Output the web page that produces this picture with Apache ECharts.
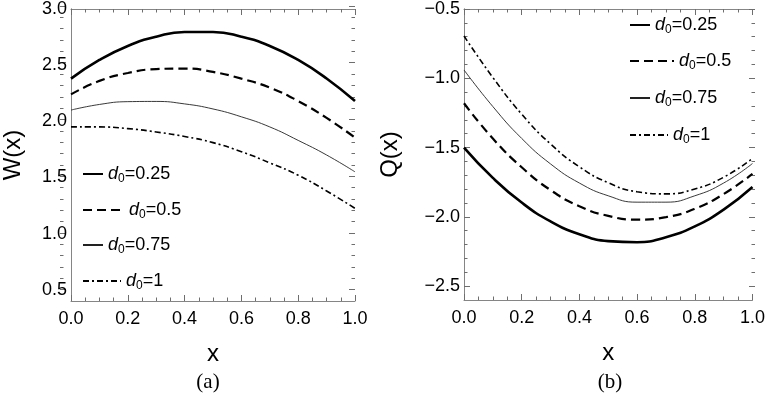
<!DOCTYPE html>
<html>
<head>
<meta charset="utf-8">
<script src="https://cdn.jsdelivr.net/npm/echarts@6/dist/echarts.min.js"></script>
<style>html,body{margin:0;padding:0;background:#fff}#c{width:768px;height:393px}</style>
</head>
<body>
<div id="c"></div>
<script>
// ---- data ----
const xs = [0, 0.1, 0.2, 0.3, 0.4, 0.5, 0.6, 0.7, 0.8, 0.9, 1.0];
const seriesNames = ['d0=0.25', 'd0=0.5', 'd0=0.75', 'd0=1'];
// W(x), panel (a)
const W_025 = [2.38, 2.546, 2.671, 2.753, 2.795, 2.795, 2.753, 2.671, 2.546, 2.381, 2.18];
const W_050 = [2.24, 2.36, 2.43, 2.465, 2.47, 2.44, 2.38, 2.30, 2.18, 2.03, 1.855];
const W_075 = [2.10, 2.15, 2.175, 2.177, 2.155, 2.11, 2.04, 1.95, 1.83, 1.70, 1.55];
const W_100 = [1.95, 1.95, 1.935, 1.905, 1.865, 1.81, 1.73, 1.63, 1.52, 1.38, 1.225];
// Q(x), panel (b)
const Q_025 = [-1.50, -1.719, -1.897, -2.033, -2.125, -2.175, -2.183, -2.147, -2.069, -1.948, -1.785];
const Q_050 = [-1.18, -1.435, -1.642, -1.807, -1.923, -1.993, -2.02, -2.002, -1.942, -1.835, -1.69];
const Q_075 = [-0.94, -1.204, -1.434, -1.618, -1.756, -1.848, -1.894, -1.894, -1.848, -1.756, -1.615];
const Q_100 = [-0.695, -0.994, -1.259, -1.474, -1.639, -1.754, -1.819, -1.834, -1.799, -1.714, -1.579];
// tick labels
const xTicks = [0, 0.2, 0.4, 0.6, 0.8, 1.0];
const wTicks = [0.5, 1.0, 1.5, 2.0, 2.5, 3.0];
const qTicks = [-2.5, -2.0, -1.5, -1.0, -0.5];
// axis ranges
const wRange = [0.4, 3.0];
const qRange = [-2.6, -0.5];

const FRAME = '#858585';
const TICK = '#6e6e6e';
const FONT = 'Liberation Sans';
const fmt = v => (v < 0 ? '\u2212' + Math.abs(v).toFixed(1) : v.toFixed(1));

// panel geometry (pixels)
const P = [
  {left: 60, right: 355, top: 6, bottom: 301, range: wRange, ticks: wTicks, name: 'W(x)', gap: 46},
  {left: 464, right: 755, top: 9, bottom: 300, range: qRange, ticks: qTicks, name: 'Q(x)', gap: 62}
];

const grids = [], xAxis = [], yAxis = [];
const tickStyle = {color: TICK, width: 1};
P.forEach((p, pi) => {
  const H = 393, Wd = 768;
  grids.push({left: p.left, right: Wd - p.right, top: p.top, bottom: H - p.bottom});
  const gData = grids.length - 1;
  // tick grid: same scale, spanning from the first major y tick to the top
  const pxPerUnit = (p.bottom - p.top) / (p.range[1] - p.range[0]);
  const firstTickPx = p.bottom - (p.ticks[0] - p.range[0]) * pxPerUnit;
  grids.push({left: p.left, right: Wd - p.right, top: p.top, bottom: H - firstTickPx});
  const gTick = grids.length - 1;

  const xBase = {type: 'value', min: 0, max: 1, interval: 0.2, splitLine: {show: false}};
  xAxis.push(Object.assign({}, xBase, {gridIndex: gData, position: 'bottom', name: 'x', nameLocation: 'middle', nameGap: 41,
    nameTextStyle: {fontFamily: FONT, fontSize: 24, color: '#000'},
    axisLine: {show: true, lineStyle: {color: FRAME, width: 1}},
    axisTick: {show: true, inside: true, length: 6, lineStyle: tickStyle},
    minorTick: {show: true, splitNumber: 4, length: 3.5, lineStyle: tickStyle},
    axisLabel: {show: true, formatter: fmt, margin: 9, fontFamily: FONT, fontSize: 18, color: '#000'}}));
  xAxis.push(Object.assign({}, xBase, {gridIndex: gData, position: 'top',
    axisLine: {show: true, lineStyle: {color: FRAME, width: 1}},
    axisTick: {show: true, inside: true, length: 6, lineStyle: tickStyle},
    minorTick: {show: true, splitNumber: 4, length: 3.5, lineStyle: tickStyle},
    axisLabel: {show: false}}));
  xAxis.push(Object.assign({}, xBase, {gridIndex: gTick, show: false}));

  const yBase = {type: 'value', splitLine: {show: false}};
  yAxis.push(Object.assign({}, yBase, {gridIndex: gData, min: p.range[0], max: p.range[1], position: 'left',
    name: p.name, nameLocation: 'middle', nameGap: p.gap,
    nameTextStyle: {fontFamily: FONT, fontSize: 24, color: '#000'},
    axisLine: {show: true, lineStyle: {color: FRAME, width: 1}},
    axisTick: {show: false},
    axisLabel: {show: true, customValues: p.ticks, formatter: fmt, margin: 4, fontFamily: FONT, fontSize: 18, color: '#000'}}));
  yAxis.push(Object.assign({}, yBase, {gridIndex: gData, min: p.range[0], max: p.range[1], position: 'right',
    axisLine: {show: true, lineStyle: {color: FRAME, width: 1}}, axisTick: {show: false}, axisLabel: {show: false}}));
  ['left', 'right'].forEach(pos => {
    yAxis.push(Object.assign({}, yBase, {gridIndex: gTick, min: p.ticks[0], max: p.ticks[p.ticks.length - 1], interval: 0.5,
      position: pos, axisLine: {show: false},
      axisTick: {show: true, inside: true, length: 6, lineStyle: tickStyle},
      minorTick: {show: true, splitNumber: 5, length: 3.5, lineStyle: tickStyle},
      axisLabel: {show: false}}));
  });
});

const styles = [
  {width: 2.6, type: 'solid', color: '#000'},
  {width: 2.2, type: [9, 5], color: '#000'},
  {width: 0.9, type: 'solid', color: '#222'},
  {width: 1.6, type: [6, 3, 2, 3], color: '#000'}
];
function mk(name, vals, si, xIdx, yIdx) {
  return {
    name: name, type: 'line', xAxisIndex: xIdx, yAxisIndex: yIdx,
    data: xs.map((x, i) => [x, vals[i]]),
    smooth: true, symbol: 'none', silent: true,
    lineStyle: styles[si], itemStyle: {color: styles[si].color}
  };
}
const wVals = [W_025, W_050, W_075, W_100];
const qVals = [Q_025, Q_050, Q_075, Q_100];
const series = [];
seriesNames.forEach((n, i) => series.push(mk(n, wVals[i], i, 0, 0)));
seriesNames.forEach((n, i) => series.push(mk(n, qVals[i], i, 3, 4)));

const legendFmt = n => '{i|d}{s|0}{n|' + n.slice(2) + '}';
const legendText = {
  fontFamily: FONT, fontSize: 18, color: '#000',
  rich: {
    i: {fontFamily: FONT, fontSize: 18, fontStyle: 'italic', color: '#000'},
    s: {fontFamily: FONT, fontSize: 12, color: '#000', padding: [10, 0, 0, 0]},
    n: {fontFamily: FONT, fontSize: 18, color: '#000'}
  }
};
// legend placement: [left, centerY, sampleWidth]
const legLeft = [[82, 176, 20], [82, 212, 41], [82, 247, 20], [82, 283, 38]];
const legRight = [[629, 27, 20], [629, 63, 44], [629, 100, 20], [629, 137, 38]];
const legends = [];
[legLeft, legRight].forEach(arr => arr.forEach((p, i) => {
  legends.push({
    data: [seriesNames[i]], left: p[0], top: p[1] - 11, itemWidth: p[2], itemHeight: 14,
    itemGap: 0, padding: 0, selectedMode: false, formatter: legendFmt, textStyle: legendText,
    itemStyle: {opacity: 0, borderWidth: 0}
  });
}));

const chart = echarts.init(document.getElementById('c'), null, {renderer: 'canvas'});
chart.setOption({
  animation: false,
  backgroundColor: '#fff',
  grid: grids,
  xAxis: xAxis,
  yAxis: yAxis,
  legend: legends,
  series: series,
  graphic: [
    {type: 'text', x: 208, y: 382, style: {text: '(a)', textAlign: 'center', textVerticalAlign: 'middle', font: '21px "Liberation Serif"', fill: '#000'}},
    {type: 'text', x: 610, y: 382, style: {text: '(b)', textAlign: 'center', textVerticalAlign: 'middle', font: '21px "Liberation Serif"', fill: '#000'}}
  ]
});
</script>
</body>
</html>
